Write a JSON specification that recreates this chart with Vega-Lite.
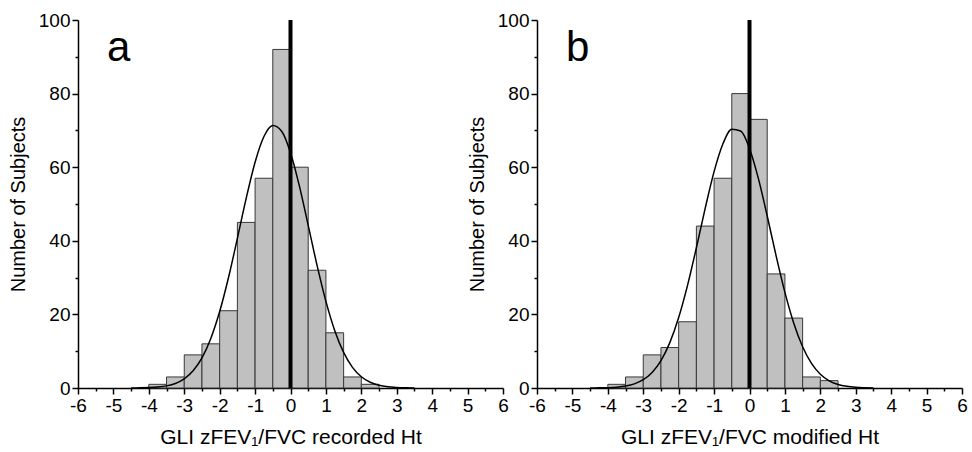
{
  "$schema": "https://vega.github.io/schema/vega-lite/v6.json",
  "padding": {"left": 8, "top": 11, "right": 5, "bottom": 5},
  "background": "white",
  "spacing": 34,
  "bounds": "flush",
  "datasets": {
    "barsA": [
      {"x": -4, "x1": -3.5, "y": 1},
      {"x": -3.5, "x1": -3, "y": 3},
      {"x": -3, "x1": -2.5, "y": 9},
      {"x": -2.5, "x1": -2, "y": 12},
      {"x": -2, "x1": -1.5, "y": 21},
      {"x": -1.5, "x1": -1, "y": 45},
      {"x": -1, "x1": -0.5, "y": 57},
      {"x": -0.5, "x1": 0, "y": 92},
      {"x": 0, "x1": 0.5, "y": 60},
      {"x": 0.5, "x1": 1, "y": 32},
      {"x": 1, "x1": 1.5, "y": 15},
      {"x": 1.5, "x1": 2, "y": 3},
      {"x": 2, "x1": 2.5, "y": 1}
    ],
    "barsB": [
      {"x": -4, "x1": -3.5, "y": 1},
      {"x": -3.5, "x1": -3, "y": 3},
      {"x": -3, "x1": -2.5, "y": 9},
      {"x": -2.5, "x1": -2, "y": 11},
      {"x": -2, "x1": -1.5, "y": 18},
      {"x": -1.5, "x1": -1, "y": 44},
      {"x": -1, "x1": -0.5, "y": 57},
      {"x": -0.5, "x1": 0, "y": 80},
      {"x": 0, "x1": 0.5, "y": 73},
      {"x": 0.5, "x1": 1, "y": 31},
      {"x": 1, "x1": 1.5, "y": 19},
      {"x": 1.5, "x1": 2, "y": 3},
      {"x": 2, "x1": 2.5, "y": 2}
    ],
    "curveA": [
      {"x": -4.5, "y": 0.015}, {"x": -4.25, "y": 0.04}, {"x": -4, "y": 0.105}, {"x": -3.75, "y": 0.255},
      {"x": -3.5, "y": 0.58}, {"x": -3.25, "y": 1.24}, {"x": -3, "y": 2.48}, {"x": -2.75, "y": 4.66},
      {"x": -2.5, "y": 8.18}, {"x": -2.25, "y": 13.47}, {"x": -2, "y": 20.77}, {"x": -1.75, "y": 30.02},
      {"x": -1.5, "y": 40.66}, {"x": -1.25, "y": 51.59}, {"x": -1, "y": 61.35}, {"x": -0.75, "y": 68.34},
      {"x": -0.5, "y": 71.34}, {"x": -0.25, "y": 69.78}, {"x": 0, "y": 63.95}, {"x": 0.25, "y": 54.92},
      {"x": 0.5, "y": 44.19}, {"x": 0.75, "y": 33.32}, {"x": 1, "y": 23.54}, {"x": 1.25, "y": 15.58},
      {"x": 1.5, "y": 9.66}, {"x": 1.75, "y": 5.62}, {"x": 2, "y": 3.06}, {"x": 2.25, "y": 1.56},
      {"x": 2.5, "y": 0.75}, {"x": 2.75, "y": 0.33}, {"x": 3, "y": 0.14}, {"x": 3.25, "y": 0.055},
      {"x": 3.5, "y": 0.02}
    ],
    "curveB": [
      {"x": -4.5, "y": 0.013}, {"x": -4.25, "y": 0.037}, {"x": -4, "y": 0.095}, {"x": -3.75, "y": 0.23},
      {"x": -3.5, "y": 0.525}, {"x": -3.25, "y": 1.12}, {"x": -3, "y": 2.25}, {"x": -2.75, "y": 4.22},
      {"x": -2.5, "y": 7.45}, {"x": -2.25, "y": 12.33}, {"x": -2, "y": 19.14}, {"x": -1.75, "y": 27.89},
      {"x": -1.5, "y": 38.11}, {"x": -1.25, "y": 48.87}, {"x": -1, "y": 58.8}, {"x": -0.75, "y": 66.37},
      {"x": -0.5, "y": 70.29}, {"x": -0.25, "y": 69.85}, {"x": 0, "y": 65.11}, {"x": 0.25, "y": 56.95},
      {"x": 0.5, "y": 46.74}, {"x": 0.75, "y": 35.98}, {"x": 1, "y": 25.99}, {"x": 1.25, "y": 17.62},
      {"x": 1.5, "y": 11.21}, {"x": 1.75, "y": 6.68}, {"x": 2, "y": 3.74}, {"x": 2.25, "y": 1.96},
      {"x": 2.5, "y": 0.97}, {"x": 2.75, "y": 0.45}, {"x": 3, "y": 0.19}, {"x": 3.25, "y": 0.079},
      {"x": 3.5, "y": 0.03}
    ],
    "labelA": [{"x": -4.85, "y": 92.5, "t": "a"}],
    "labelB": [{"x": -4.85, "y": 92.5, "t": "b"}],
    "zeroLine": [{"x": 0, "y": 0, "y1": 100}]
  },
  "hconcat": [
    {
      "width": 425,
      "height": 368,
      "encoding": {
        "x": {"field": "x", "type": "quantitative", "scale": {"domain": [-6, 6], "nice": false, "zero": false},
          "axis": {"title": "GLI zFEV₁/FVC recorded Ht",
            "values": [-6, -5.5, -5, -4.5, -4, -3.5, -3, -2.5, -2, -1.5, -1, -0.5, 0, 0.5, 1, 1.5, 2, 2.5, 3, 3.5, 4, 4.5, 5, 5.5, 6],
            "labelExpr": "datum.value % 1 === 0 ? '' + datum.value : ''",
            "tickSize": {"condition": {"test": "datum.value % 1 !== 0", "value": 3}, "value": 6}}},
        "y": {"field": "y", "type": "quantitative", "scale": {"domain": [0, 100], "nice": false},
          "axis": {"title": "Number of Subjects",
            "values": [0, 10, 20, 30, 40, 50, 60, 70, 80, 90, 100],
            "labelExpr": "datum.value % 20 === 0 ? '' + datum.value : ''",
            "tickSize": {"condition": {"test": "datum.value % 20 !== 0", "value": 3}, "value": 6}}}
      },
      "layer": [
        {
          "data": {"name": "barsA"},
          "mark": {"type": "rect", "fill": "#c0c0c0", "stroke": "#383838", "strokeWidth": 1},
          "encoding": {"x2": {"field": "x1"}, "y2": {"datum": 0}}
        },
        {
          "data": {"name": "curveA"},
          "mark": {"type": "line", "color": "black", "strokeWidth": 1.5, "interpolate": "monotone"}
        },
        {
          "data": {"name": "zeroLine"},
          "mark": {"type": "rule", "color": "black", "strokeWidth": 4},
          "encoding": {"y2": {"field": "y1"}}
        },
        {
          "data": {"name": "labelA"},
          "mark": {"type": "text", "fontSize": 42, "font": "Liberation Sans", "align": "center", "baseline": "middle", "color": "black"},
          "encoding": {"text": {"field": "t"}}
        }
      ]
    },
    {
      "width": 425,
      "height": 368,
      "encoding": {
        "x": {"field": "x", "type": "quantitative", "scale": {"domain": [-6, 6], "nice": false, "zero": false},
          "axis": {"title": "GLI zFEV₁/FVC modified Ht",
            "values": [-6, -5.5, -5, -4.5, -4, -3.5, -3, -2.5, -2, -1.5, -1, -0.5, 0, 0.5, 1, 1.5, 2, 2.5, 3, 3.5, 4, 4.5, 5, 5.5, 6],
            "labelExpr": "datum.value % 1 === 0 ? '' + datum.value : ''",
            "tickSize": {"condition": {"test": "datum.value % 1 !== 0", "value": 3}, "value": 6}}},
        "y": {"field": "y", "type": "quantitative", "scale": {"domain": [0, 100], "nice": false},
          "axis": {"title": "Number of Subjects",
            "values": [0, 10, 20, 30, 40, 50, 60, 70, 80, 90, 100],
            "labelExpr": "datum.value % 20 === 0 ? '' + datum.value : ''",
            "tickSize": {"condition": {"test": "datum.value % 20 !== 0", "value": 3}, "value": 6}}}
      },
      "layer": [
        {
          "data": {"name": "barsB"},
          "mark": {"type": "rect", "fill": "#c0c0c0", "stroke": "#383838", "strokeWidth": 1},
          "encoding": {"x2": {"field": "x1"}, "y2": {"datum": 0}}
        },
        {
          "data": {"name": "curveB"},
          "mark": {"type": "line", "color": "black", "strokeWidth": 1.5, "interpolate": "monotone"}
        },
        {
          "data": {"name": "zeroLine"},
          "mark": {"type": "rule", "color": "black", "strokeWidth": 4},
          "encoding": {"y2": {"field": "y1"}}
        },
        {
          "data": {"name": "labelB"},
          "mark": {"type": "text", "fontSize": 42, "font": "Liberation Sans", "align": "center", "baseline": "middle", "color": "black"},
          "encoding": {"text": {"field": "t"}}
        }
      ]
    }
  ],
  "config": {
    "view": {"stroke": null},
    "font": "Liberation Sans",
    "axis": {
      "grid": false,
      "domainColor": "black",
      "domainWidth": 1.5,
      "tickColor": "black",
      "tickWidth": 1.5,
      "labelColor": "black",
      "labelFontSize": 19,
      "labelFont": "Liberation Sans",
      "labelFlush": false,
      "labelOverlap": false,
      "labelPadding": 2,
      "titleColor": "black",
      "titleFont": "Liberation Sans",
      "titleFontSize": 20,
      "titleFontWeight": "normal"
    },
    "axisX": {"titlePadding": 11, "titleFontSize": 21},
    "axisY": {"titlePadding": 10}
  }
}
